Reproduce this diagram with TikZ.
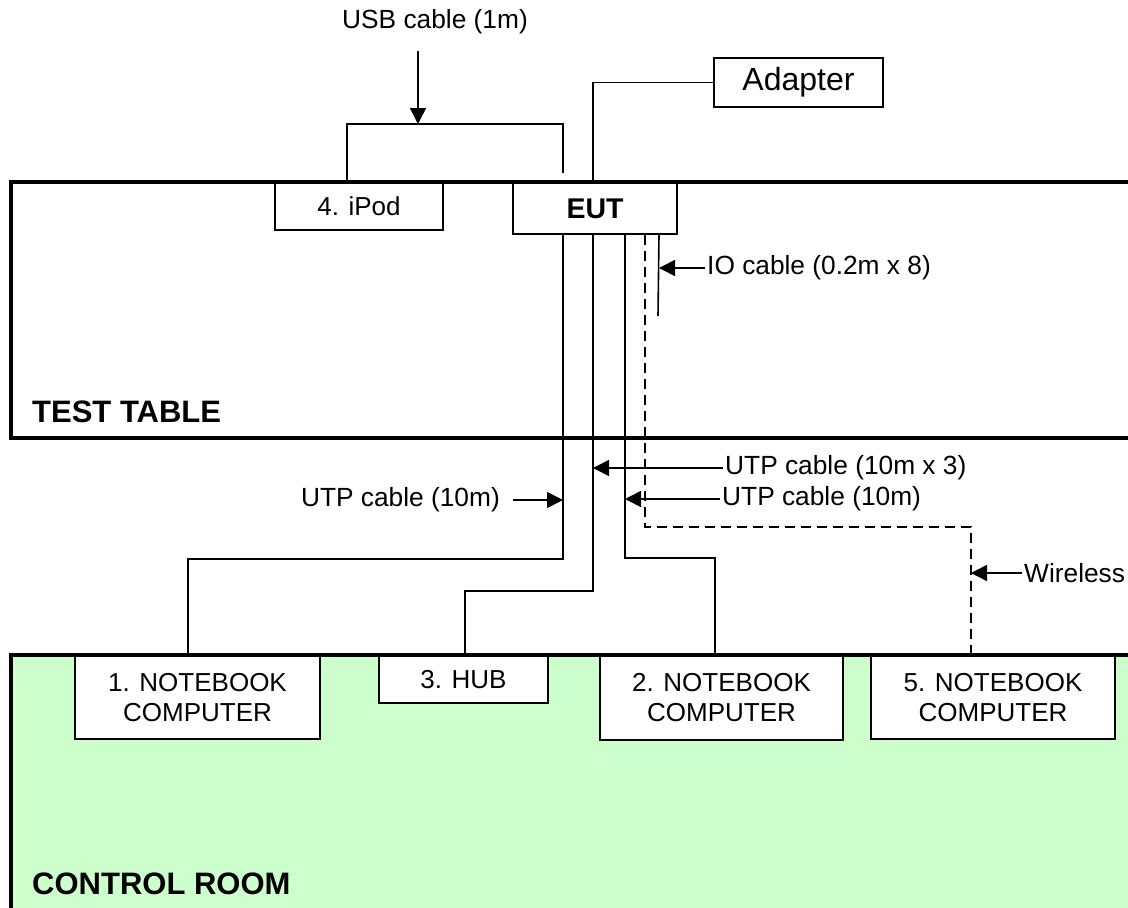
\documentclass[tikz,border=0pt]{standalone}
\usepackage{fontspec}
\setmainfont{Liberation Sans}
\usepackage{tikz}
\usetikzlibrary{arrows.meta,positioning,calc}
\definecolor{roomgreen}{HTML}{CCFFCC}

\begin{document}
\begin{tikzpicture}[x=1pt,y=-1pt,
	box/.style={draw,line width=2pt,fill=white,inner sep=0pt,anchor=north west,align=center,font=\fontsize{26}{30}\selectfont},
	cable/.style={line width=1.6pt},
	wless/.style={line width=2pt,dash pattern=on 10pt off 6pt},
	arr/.style={-{Triangle[length=16pt,width=16pt]},line width=1.6pt},
	lab/.style={inner sep=2pt,font=\fontsize{26.3}{30}\selectfont},
	zone/.style={line width=4.5pt},
	zonelab/.style={anchor=west,inner sep=0pt,font=\fontsize{31}{36}\selectfont\bfseries}
	]
	\useasboundingbox (0,0) rectangle (1128,908);
	\fill[roomgreen] (11,655) rectangle (1128,908);
	\node[box,minimum width=168pt,minimum height=47pt] (ipod) at (274,182) {4. iPod};
	\node[box,minimum width=164pt,minimum height=51pt,font=\fontsize{28.5}{32}\selectfont\bfseries] (eut) at (512,182) {EUT};
	\node[box,minimum width=169pt,minimum height=49pt,font=\fontsize{32}{36}\selectfont] (adapter) at (713,57) {Adapter};
	\node[box,minimum width=245pt,minimum height=83pt] (nb1) at (74,655) {1. NOTEBOOK\\COMPUTER};
	\node[box,minimum width=169pt,minimum height=47pt] (hub) at (378,655) {3. HUB};
	\node[box,minimum width=243pt,minimum height=84pt] (nb2) at (599,655) {2. NOTEBOOK\\COMPUTER};
	\node[box,minimum width=244pt,minimum height=83pt] (nb5) at (870,655) {5. NOTEBOOK\\COMPUTER};
	\node[zonelab] (tabletxt) at (32,412) {TEST TABLE};
	\node[zonelab] (roomtxt) at (32,884) {CONTROL ROOM};
	\node[lab] (usblab) at (435,22) {USB cable (1m)};
	\node[lab,anchor=west] (iolab) at (705,268) {IO cable (0.2m x 8)};
	\node[lab,anchor=west] (utpthree) at (723,468) {UTP cable (10m x 3)};
	\node[lab,anchor=west] (utptwo) at (720,499) {UTP cable (10m)};
	\node[lab,anchor=east] (utpone) at (502,500) {UTP cable (10m)};
	\node[lab,anchor=west] (wlesslab) at (1022,573) {Wireless};
	\coordinate (usbend) at (563,173);
	\coordinate (usbtip) at (418,124);
	\coordinate (usbtail) at (418,51);
	\coordinate (c1) at ([xshift=-32pt]eut.south);
	\coordinate (c2) at ([xshift=-2pt]eut.south);
	\coordinate (c3) at ([xshift=30pt]eut.south);
	\coordinate (c4) at ([xshift=50pt]eut.south);
	\coordinate (c5) at ([xshift=64pt]eut.south);
	\coordinate (c6) at ([xshift=-22pt]nb5.north);
	\coordinate (ioend) at (658,316);
	\draw[cable] ([xshift=-12pt]ipod.north) |- ([yshift=49pt]usbend) -- (usbend);
	\draw[cable] ([xshift=-2pt]eut.north) |- (adapter.west);
	\draw[cable] (c1) |- ([xshift=-9.5pt,yshift=96pt]nb1.north) -- ([xshift=-9.5pt]nb1.north);
	\draw[cable] (c2) |- ([xshift=1.5pt,yshift=64pt]hub.north) -- ([xshift=1.5pt]hub.north);
	\draw[cable] (c3) |- ([xshift=-6.5pt,yshift=97pt]nb2.north) -- ([xshift=-6.5pt]nb2.north);
	\draw[wless] (c4) |- ([yshift=128pt]c6) -- (c6);
	\draw[cable] (c5) -- (ioend);
	\draw[arr] (usbtail) -- (usbtip);
	\draw[arr] (iolab.west) -- (iolab.west -| c5);
	\draw[arr] (utpthree.west) -- (utpthree.west -| c2);
	\draw[arr] (utptwo.west) -- (utptwo.west -| c3);
	\draw[arr] ([xshift=11pt]utpone.east) -- (utpone.east -| c1);
	\draw[arr] (wlesslab.west) -- (wlesslab.west -| c6);
	\draw[zone] (1128,182) -- (11,182) -- (11,438) -- (1128,438);
	\draw[zone] (11,908) -- (11,655) -- (1128,655);
\end{tikzpicture}
\end{document}
